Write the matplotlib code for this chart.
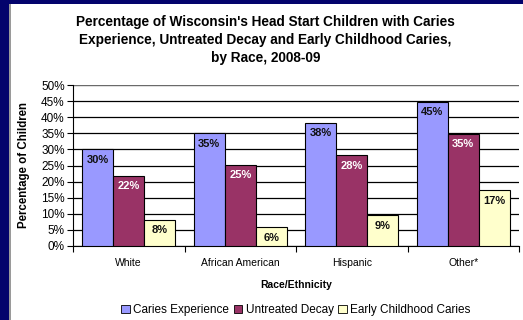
import matplotlib
matplotlib.use("Agg")
import matplotlib.pyplot as plt
import matplotlib.patches as mpatches
import numpy as np

categories = ["White", "African American", "Hispanic", "Other*"]
series_names = ["Caries Experience", "Untreated Decay", "Early Childhood Caries"]
caries_exp = [30.0, 35.0, 38.3, 44.8]
untreated = [21.8, 25.2, 28.2, 34.8]
ecc = [8.2, 5.9, 9.6, 17.4]
caries_lbl = ["30%", "35%", "38%", "45%"]
untreated_lbl = ["22%", "25%", "28%", "35%"]
ecc_lbl = ["8%", "6%", "9%", "17%"]
yticks = [0, 5, 10, 15, 20, 25, 30, 35, 40, 45, 50]

plt.rcParams['font.family'] = ['Liberation Sans', 'DejaVu Sans']

fig = plt.figure(figsize=(5.23, 3.2), dpi=100)
fig.patch.set_facecolor('#03036c')
# white panel
fig.add_artist(mpatches.Rectangle((10/523, 0), 1 - 10/523, (320-4)/320,
                                  transform=fig.transFigure, facecolor='white',
                                  edgecolor='none', zorder=0))
fig.add_artist(mpatches.Rectangle((9/523, 0), 1.5/523, (320-4)/320,
                                  transform=fig.transFigure, facecolor='#9a9a9a',
                                  edgecolor='none', zorder=0))

ax = fig.add_axes([73/523, (320-246)/320, 446/523, 161/320])
ax.set_facecolor('none')

x = np.arange(len(categories))
w = 0.278
colors = ['#9999ff', '#993366', '#ffffcc']
series = [caries_exp, untreated, ecc]
labels = [caries_lbl, untreated_lbl, ecc_lbl]
txtcol = ['#111111', 'white', '#111111']
for i, (vals, lbls, c) in enumerate(zip(series, labels, colors)):
    xs = x + (i - 1) * w
    ax.bar(xs, vals, width=w, color=c, edgecolor='black', linewidth=0.8,
           label=series_names[i], zorder=3)
    for xx, v, l in zip(xs, vals, lbls):
        ax.annotate(l, (xx, v), xytext=(0, -4), textcoords='offset points',
                    ha='center', va='top', fontsize=8, fontweight='bold',
                    color=txtcol[i], zorder=4)

ax.set_ylim(0, 50)
ax.set_xlim(-0.5, 3.5)
ax.set_yticks(yticks)
ax.set_yticklabels([f"{t}%" for t in yticks], fontsize=8.5)
ax.yaxis.grid(True, color='black', linewidth=0.9, zorder=1)
ax.set_axisbelow(True)
ax.set_xticks(x)
ax.set_xticklabels(categories, fontsize=7.5)
ax.tick_params(axis='x', which='major', length=0, pad=9)
ax.set_xticks(np.arange(-0.5, 4, 1), minor=True)
ax.tick_params(axis='x', which='minor', length=4, width=0.8, direction='out')
ax.tick_params(axis='y', length=4, width=0.8, direction='out', pad=2)
for s in ['top', 'right']:
    ax.spines[s].set_visible(False)
ax.spines['left'].set_linewidth(0.8)
ax.spines['bottom'].set_linewidth(0.8)
ax.axhline(50, color='#808080', linewidth=1.2, zorder=2)

ax.set_ylabel("Percentage of Children", fontsize=8.3, fontweight='bold', labelpad=8)
ax.set_xlabel("Race/Ethnicity", fontsize=7.5, fontweight='bold', labelpad=8)

fig.text(0.5 + 4/523, 1 - 40/320,
         "Percentage of Wisconsin's Head Start Children with Caries\n"
         "Experience, Untreated Decay and Early Childhood Caries,\n"
         "by Race, 2008-09",
         ha='center', va='center', fontsize=9.8, fontweight='bold', linespacing=1.35)

leg = fig.legend(loc='center', bbox_to_anchor=(296/523, 1 - 310/320), ncol=3,
                 frameon=False, fontsize=8.5, handlelength=0.7, handleheight=0.7,
                 handletextpad=0.3, columnspacing=0.4, borderaxespad=0)
for h in leg.legend_handles:
    h.set_linewidth(0.6)

fig.savefig("out.png", dpi=100)
